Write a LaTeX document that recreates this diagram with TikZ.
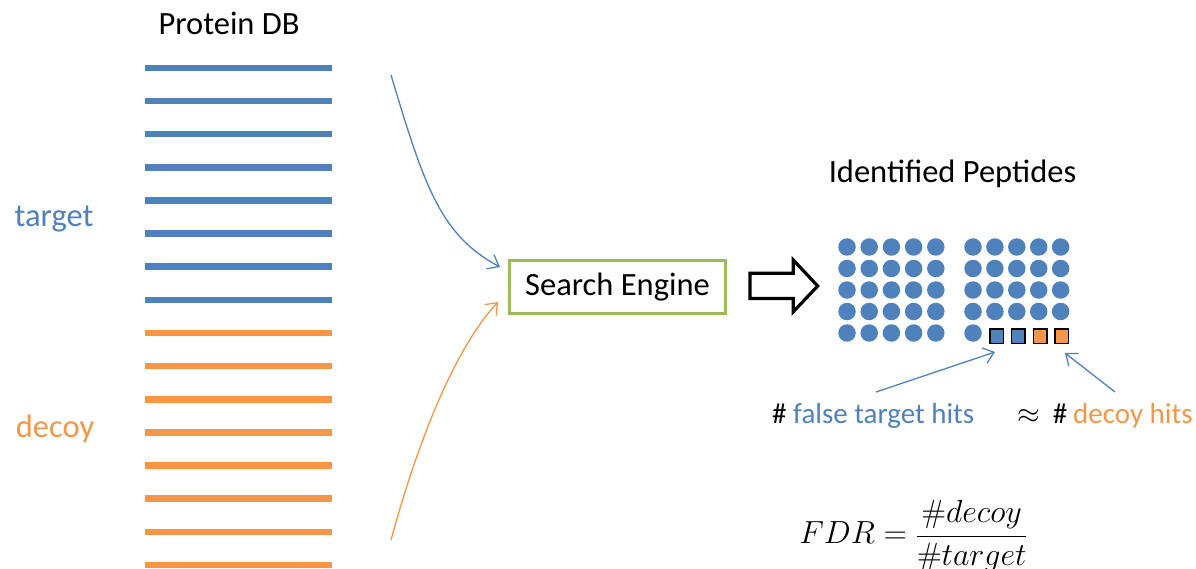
\RequirePackage{fix-cm}
\documentclass[tikz,border=0pt]{standalone}
\usepackage[no-math]{fontspec}
\setmainfont{Carlito}
\usepackage{xcolor}
\usepackage{tikz}
\usetikzlibrary{arrows.meta,positioning,calc}
\definecolor{targetBlue}{RGB}{79,129,189}
\definecolor{decoyOrange}{RGB}{247,150,70}
\definecolor{engineGreen}{RGB}{155,187,89}
\tikzset{
  bigtext/.style={font=\fontsize{32.5}{38}\selectfont, inner sep=0pt},
  hittext/.style={font=\fontsize{29}{34}\selectfont, inner sep=0pt},
  dbline/.style={line width=6.5pt},
  enginebox/.style={
    rectangle, draw=engineGreen, line width=3pt, inner sep=0pt,
    minimum width=216pt, minimum height=53pt, font=\fontsize{32.5}{38}\selectfont
  },
  thinArrow/.style={-{Straight Barb[length=10pt,width=16pt]}, line width=1.3pt}
}

\begin{document}
\begin{tikzpicture}[x=1pt, y=-1pt,
        pepdot/.style={circle, fill=targetBlue, inner sep=0pt, minimum size=17.5pt},
        hit/.style={rectangle, draw=black, line width=1.5pt, inner sep=0pt,
                    minimum width=13.5pt, minimum height=14.5pt}]
        \useasboundingbox (0,0) rectangle (1196,569);
        \foreach \i in {0,...,7} \draw[dbline, targetBlue] (145,67.9+33.14*\i) -- (332,67.9+33.14*\i);
        \foreach \i in {8,...,15} \draw[dbline, decoyOrange] (145,67.9+33.14*\i) -- (332,67.9+33.14*\i);
        \node[bigtext, anchor=base] (db) at (229,35) {Protein DB};
        \node[bigtext, anchor=base, text=targetBlue] (tg) at (54,227) {target};
        \node[bigtext, anchor=base, text=decoyOrange] (dc) at (55,437) {decoy};
        \node[enginebox] (se) at (617.5,287) {Search Engine};
        \coordinate (tgTail) at (391,75);
        \coordinate (dcTail) at (391,540);
        \draw[thinArrow, targetBlue] (tgTail) .. controls (424,185) and (440,235) .. ([xshift=-8pt,yshift=-8pt]se.north west);
        \draw[thinArrow, decoyOrange] (dcTail) .. controls (421,430) and (458,345) .. ([xshift=-10pt,yshift=13pt]se.south west);
        \draw[line width=3.2pt, fill=white, line join=miter] (750,273.3) -- (793.3,273.3) -- (793.3,260)
          -- (817.7,286) -- (793.3,311.7) -- (793.3,298.4) -- (750,298.4) -- cycle;
        \node[bigtext, anchor=base] (ip) at (952.5,183) {Identified Peptides};
        \foreach \r in {0,...,4} \foreach \c in {0,...,4}
          \node[pepdot] (pl-\r-\c) at (847+22.2*\c,247+21.5*\r) {};
        \foreach \r in {0,...,3} \foreach \c in {0,...,4}
          \node[pepdot] (pr-\r-\c) at (973+21.9*\c,247+21.5*\r) {};
        \node[pepdot] (pr-4-0) at (973,333) {};
        \foreach \x/\col [count=\i] in {996.5/targetBlue,1018/targetBlue,1040/decoyOrange,1061.5/decoyOrange}
          \node[hit, fill=\col] (hit\i) at (\x,336) {};
        \node[hittext, anchor=base west] (ft) at (772,423) {\# \textcolor{targetBlue}{false target hits}};
        \node[hittext, anchor=base west] (dh) at (1017,423)
          {$\approx$\hspace{13pt}\#\hspace{6pt}\textcolor{decoyOrange}{decoy hits}};
        \coordinate (ftTail) at (876,392);
        \coordinate (dhTail) at (1115,392);
        \draw[thinArrow, targetBlue] (ftTail) -- ([xshift=-1.5pt,yshift=-8pt]hit1.south);
        \draw[thinArrow, targetBlue] (dhTail) -- ([xshift=3.5pt,yshift=-9pt]hit4.south);
        \node[font=\fontsize{32}{38}\selectfont, inner sep=0pt] (fdr) at (913.5,536)
          {$\displaystyle FDR=\frac{\#decoy}{\#target}$};
      \end{tikzpicture}
\end{document}
